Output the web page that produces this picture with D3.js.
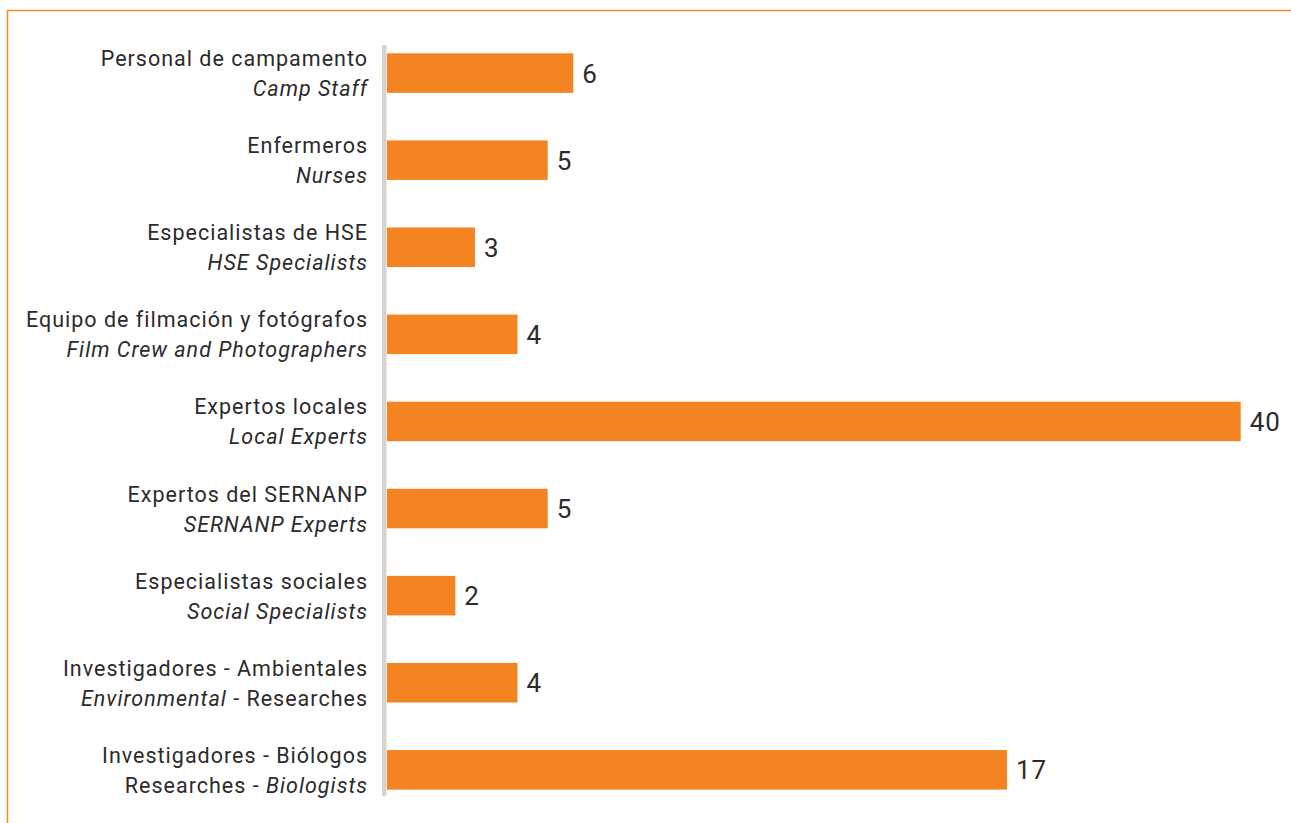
<!DOCTYPE html>
<html>
<head>
<meta charset="utf-8">
<script src="https://cdn.jsdelivr.net/npm/d3@7"></script>
<style>
  body { margin: 0; background: #fff; }
  text { font-family: Roboto, "Open Sans", sans-serif; fill: #2b2b2b; }
</style>
</head>
<body>
<div class="chart"></div>
<script>
// categories: first line (Spanish), second line (English, *...* = italic)
var labelsEs = [
  "Personal de campamento",
  "Enfermeros",
  "Especialistas de HSE",
  "Equipo de filmación y fotógrafos",
  "Expertos locales",
  "Expertos del SERNANP",
  "Especialistas sociales",
  "Investigadores - Ambientales",
  "Investigadores - Biólogos"
];
var labelsEn = [
  "*Camp Staff*",
  "*Nurses*",
  "*HSE Specialists*",
  "*Film Crew and Photographers*",
  "*Local Experts*",
  "*SERNANP Experts*",
  "*Social Specialists*",
  "*Environmental* - Researches",
  "Researches - *Biologists*"
];
var values = [6, 5, 3, 4, 40, 5, 2, 4, 17];

var width = 1291, height = 823;
var x0 = 387;

var svg = d3.select(".chart").append("svg")
    .attr("width", width)
    .attr("height", height);

// frame: orange top and left rules
svg.append("line")
    .attr("x1", 7).attr("x2", width).attr("y1", 10.5).attr("y2", 10.5)
    .attr("stroke", "#f4892b").attr("stroke-width", 1.5);
svg.append("line")
    .attr("x1", 7.5).attr("x2", 7.5).attr("y1", 10).attr("y2", height)
    .attr("stroke", "#f4892b").attr("stroke-width", 1.5);

// y band scale
var y = d3.scaleBand()
    .domain(labelsEs)
    .range([53.3, 789.6])
    .paddingInner(0.546)
    .paddingOuter(0);

// the original graphic is not drawn to a linear scale; follow its bar lengths
var steps = [0].concat(Array.from(new Set(values)).sort(function(a, b) { return a - b; }));
var x = d3.scaleLinear()
    .domain(steps)                                   // 0,2,3,4,5,6,17,40
    .range([0, 68.3, 88, 130.5, 160.7, 186.3, 620, 853.7].map(function(d) { return x0 + d; }));

// divider
svg.append("rect")
    .attr("x", 382).attr("y", 45)
    .attr("width", 4.5).attr("height", 751)
    .attr("fill", "#d8d2ca");

// bars
svg.selectAll("rect.bar")
    .data(values)
    .enter().append("rect")
    .attr("class", "bar")
    .attr("x", x0)
    .attr("y", function(d, i) { return y(labelsEs[i]); })
    .attr("width", function(d) { return x(d) - x0; })
    .attr("height", y.bandwidth())
    .attr("fill", "#f48421");

// value labels
svg.selectAll("text.val")
    .data(values)
    .enter().append("text")
    .attr("class", "val")
    .attr("x", function(d) { return x(d) + 9; })
    .attr("y", function(d, i) { return y(labelsEs[i]) + y.bandwidth() / 2 + 9.5; })
    .style("font-size", "26px")
    .style("letter-spacing", "1px")
    .text(function(d) { return d; });

// category labels
var labelX = 368;
labelsEs.forEach(function(es, i) {
    var cy = y(es) + y.bandwidth() / 2;
    svg.append("text")
        .attr("x", labelX)
        .attr("y", cy - 7)
        .attr("text-anchor", "end")
        .style("font-size", "21.5px")
        .style("letter-spacing", "1px")
        .text(es);

    var t = svg.append("text")
        .attr("x", labelX)
        .attr("y", cy + 23)
        .attr("text-anchor", "end")
        .style("font-size", "21.5px")
        .style("letter-spacing", "1px");
    labelsEn[i].split("*").forEach(function(part, k) {
        if (!part) return;
        t.append("tspan")
            .style("font-style", k % 2 === 1 ? "italic" : "normal")
            .text(part);
    });
});
</script>
</body>
</html>
